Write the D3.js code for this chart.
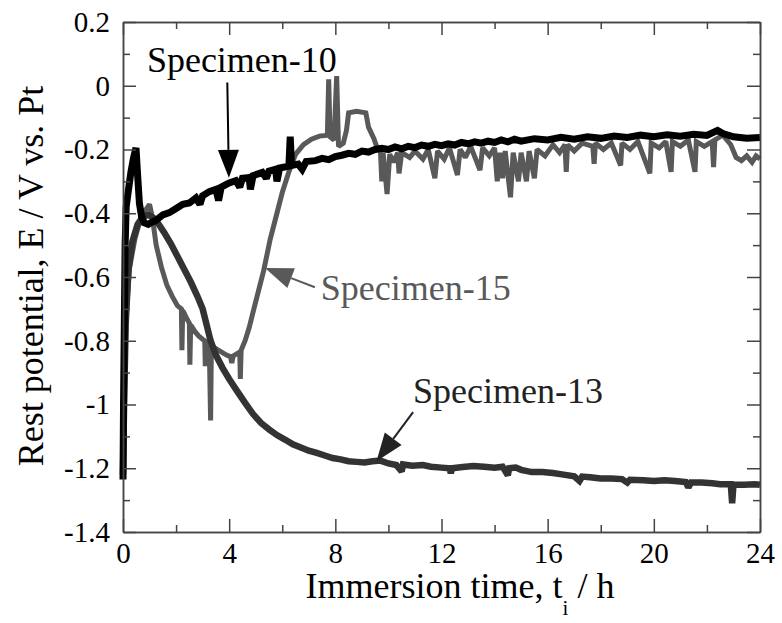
<!DOCTYPE html>
<html>
<head>
<meta charset="utf-8">
<script src="https://cdn.jsdelivr.net/npm/d3@7"></script>
<style>
  html, body { margin: 0; padding: 0; background: #fff; }
  svg { display: block; }
  text { font-family: "Liberation Serif", "Times New Roman", Times, serif; }
</style>
</head>
<body>
<svg id="chart" width="782" height="623"></svg>
<script>
// ---- data (time in h, potential in V vs. Pt) ----
const xMajorTicks = [0, 4, 8, 12, 16, 20, 24];
const xTickLabels = ["0", "4", "8", "12", "16", "20", "24"];
const xMinorTicks = [2, 6, 10, 14, 18, 22];
const yMajorTicks = [-1.4, -1.2, -1.0, -0.8, -0.6, -0.4, -0.2, 0, 0.2];
const yTickLabels = ["-1.4", "-1.2", "-1", "-0.8", "-0.6", "-0.4", "-0.2", "0", "0.2"];
const yMinorTicks = [-1.3, -1.1, -0.9, -0.7, -0.5, -0.3, -0.1, 0.1];

const seriesNames = ["Specimen-15", "Specimen-13", "Specimen-10"];

const specimen10 = [
  [0,-1.235],[0.02,-1.0],[0.05,-0.75],[0.08,-0.5],[0.12,-0.38],[0.2,-0.33],[0.3,-0.27],[0.4,-0.225],[0.49,-0.195],
  [0.55,-0.28],[0.62,-0.37],[0.7,-0.41],[0.8,-0.43],[0.95,-0.435],[1.0,-0.432],[1.25,-0.422],[1.5,-0.405],
  [1.75,-0.398],[2.0,-0.385],[2.25,-0.372],[2.5,-0.368],[2.75,-0.352],[2.9,-0.372],[3.0,-0.345],[3.25,-0.332],[3.5,-0.325],
  [3.6,-0.36],[3.7,-0.318],[4.0,-0.305],[4.25,-0.298],[4.4,-0.318],[4.5,-0.29],[4.75,-0.288],[4.8,-0.325],[4.9,-0.282],
  [5.25,-0.272],[5.4,-0.29],[5.5,-0.268],[5.75,-0.262],[5.8,-0.3],[5.9,-0.258],[6.25,-0.252],[6.3,-0.16],[6.35,-0.25],
  [6.6,-0.246],[6.75,-0.262],[6.9,-0.238],[7.25,-0.235],[7.5,-0.228],[7.75,-0.232],[8.0,-0.222],[8.25,-0.218],
  [8.5,-0.212],[8.75,-0.215],[9.0,-0.205],[9.25,-0.208],[9.5,-0.2],[9.75,-0.196],[10,-0.2],[10.25,-0.192],
  [10.5,-0.198],[10.75,-0.19],[11,-0.194],[11.25,-0.186],[11.5,-0.19],[11.75,-0.184],[12,-0.188],[12.25,-0.182],
  [12.5,-0.186],[12.75,-0.178],[13,-0.182],[13.25,-0.176],[13.5,-0.18],[13.75,-0.174],[14,-0.178],[14.25,-0.17],
  [14.5,-0.176],[14.75,-0.168],[15,-0.174],[15.5,-0.166],[16,-0.17],[16.5,-0.162],[17,-0.168],[17.5,-0.16],
  [18,-0.165],[18.5,-0.158],[19,-0.162],[19.5,-0.155],[20,-0.16],[20.5,-0.154],[21,-0.158],[21.5,-0.152],
  [22,-0.156],[22.4,-0.14],[22.6,-0.15],[23,-0.16],[23.5,-0.165],[24,-0.162]
];

const specimen15 = [
  [0,-1.2],[0.05,-0.95],[0.12,-0.72],[0.25,-0.57],[0.45,-0.48],[0.65,-0.42],[0.85,-0.39],[1.0,-0.372],
  [1.1,-0.41],[1.25,-0.5],[1.45,-0.57],[1.65,-0.625],[1.85,-0.66],[2.05,-0.69],[2.2,-0.7],[2.22,-0.83],
  [2.25,-0.705],[2.4,-0.73],[2.5,-0.745],[2.52,-0.875],[2.55,-0.75],[2.7,-0.77],[2.85,-0.785],[3.0,-0.795],
  [3.08,-0.8],[3.1,-0.88],[3.13,-0.805],[3.25,-0.81],[3.3,-1.05],[3.33,-0.815],[3.5,-0.825],[3.7,-0.835],
  [3.9,-0.845],[4.05,-0.85],[4.1,-0.87],[4.15,-0.848],[4.3,-0.84],[4.4,-0.835],[4.42,-0.92],[4.45,-0.83],
  [4.6,-0.8],[4.75,-0.76],[4.9,-0.71],[5.1,-0.645],[5.3,-0.58],[5.55,-0.48],[5.8,-0.4],[6.0,-0.335],
  [6.25,-0.27],[6.5,-0.215],[6.8,-0.185],[7.1,-0.168],[7.4,-0.158],[7.7,-0.155],[7.75,0.02],[7.8,-0.16],
  [7.95,-0.17],[8.05,0.03],[8.12,-0.19],[8.3,-0.18],[8.42,-0.14],[8.5,-0.085],[8.8,-0.08],[9.15,-0.085],
  [9.25,-0.13],[9.45,-0.165],[9.6,-0.2],[9.7,-0.205],[9.75,-0.3],[9.8,-0.21],[9.95,-0.34],[10.05,-0.215],
  [10.2,-0.24],[10.35,-0.21],[10.4,-0.275],[10.5,-0.21],[10.8,-0.225],[11.0,-0.205],[11.3,-0.23],[11.5,-0.2],
  [11.75,-0.29],[11.85,-0.205],[12.1,-0.23],[12.3,-0.195],[12.6,-0.28],[12.7,-0.2],[12.9,-0.225],[13.1,-0.19],
  [13.45,-0.265],[13.55,-0.195],[13.8,-0.22],[14.0,-0.195],[14.1,-0.3],[14.2,-0.21],[14.3,-0.29],[14.4,-0.205],
  [14.6,-0.35],[14.7,-0.21],[14.9,-0.3],[15.0,-0.21],[15.2,-0.3],[15.3,-0.205],[15.5,-0.29],[15.6,-0.2],
  [15.9,-0.22],[16.2,-0.185],[16.45,-0.21],[16.65,-0.185],[16.7,-0.27],[16.75,-0.185],[17.0,-0.205],[17.3,-0.18],
  [17.7,-0.19],[17.75,-0.245],[17.8,-0.18],[18.1,-0.2],[18.4,-0.18],[18.75,-0.25],[18.8,-0.18],[19.1,-0.2],
  [19.4,-0.175],[19.85,-0.275],[19.9,-0.18],[20.2,-0.195],[20.45,-0.175],[20.65,-0.27],[20.7,-0.175],[21.0,-0.19],
  [21.3,-0.17],[21.55,-0.27],[21.6,-0.175],[21.9,-0.19],[22.2,-0.175],[22.25,-0.255],[22.3,-0.17],[22.6,-0.155],
  [22.9,-0.185],[23.1,-0.225],[23.3,-0.235],[23.5,-0.22],[23.7,-0.24],[23.85,-0.22],[24,-0.23]
];

const specimen13 = [
  [0,-1.22],[0.04,-1.0],[0.1,-0.75],[0.2,-0.58],[0.35,-0.49],[0.55,-0.435],[0.75,-0.41],[0.95,-0.405],
  [1.15,-0.415],[1.35,-0.435],[1.55,-0.46],[1.8,-0.495],[2.05,-0.535],[2.3,-0.575],[2.55,-0.615],[2.8,-0.66],
  [3.0,-0.7],[3.15,-0.75],[3.3,-0.8],[3.5,-0.845],[3.75,-0.885],[4.0,-0.92],[4.3,-0.958],[4.6,-0.995],
  [4.9,-1.03],[5.2,-1.058],[5.5,-1.078],[5.8,-1.096],[6.1,-1.11],[6.4,-1.125],[6.7,-1.135],[7.0,-1.145],
  [7.3,-1.152],[7.6,-1.16],[7.9,-1.168],[8.2,-1.172],[8.5,-1.178],[8.8,-1.18],[9.1,-1.182],[9.4,-1.178],
  [9.7,-1.176],[10.0,-1.185],[10.3,-1.19],[10.5,-1.21],[10.55,-1.188],[10.9,-1.192],[11.3,-1.19],[11.6,-1.195],
  [12.0,-1.198],[12.3,-1.2],[12.35,-1.215],[12.4,-1.2],[12.8,-1.196],[13.2,-1.193],[13.6,-1.195],[14.0,-1.198],
  [14.3,-1.195],[14.5,-1.222],[14.55,-1.2],[14.8,-1.198],[15.0,-1.205],[15.4,-1.212],[15.8,-1.212],[16.2,-1.215],
  [16.6,-1.22],[17.0,-1.225],[17.2,-1.24],[17.3,-1.226],[17.6,-1.228],[18.0,-1.232],[18.4,-1.232],[18.8,-1.234],
  [19.0,-1.245],[19.1,-1.236],[19.6,-1.238],[20.0,-1.24],[20.4,-1.238],[20.8,-1.24],[21.2,-1.243],[21.3,-1.26],
  [21.4,-1.245],[21.8,-1.245],[22.2,-1.247],[22.5,-1.25],[22.9,-1.25],[22.95,-1.31],[23.0,-1.252],[23.4,-1.252],
  [23.8,-1.25],[24,-1.252]
];

// ---- chart ----
const W = 782, H = 623;
const margin = { left: 123, right: 22, top: 22, bottom: 91 };
const x = d3.scaleLinear().domain([0, 24]).range([margin.left, W - margin.right]);
const y = d3.scaleLinear().domain([-1.4, 0.2]).range([H - margin.bottom, margin.top]);
const serif = "'Liberation Serif', 'Times New Roman', Times, serif";

const svg = d3.select("#chart");
const axisColor = "#444";

const series = [
  { name: seriesNames[0], data: specimen15, color: "#595959", width: 5 },
  { name: seriesNames[1], data: specimen13, color: "#333333", width: 6.5 },
  { name: seriesNames[2], data: specimen10, color: "#000000", width: 7 }
];

const line = d3.line().x(d => x(d[0])).y(d => y(d[1]));

svg.append("g").selectAll("path")
  .data(series).join("path")
  .attr("d", d => line(d.data))
  .attr("fill", "none")
  .attr("stroke", d => d.color)
  .attr("stroke-width", d => d.width)
  .attr("stroke-linejoin", "miter")
  .attr("stroke-miterlimit", 2)
  .attr("stroke-linecap", "butt");

// axes
function styleAxis(g) {
  g.attr("font-family", serif);
  g.selectAll("path.domain").attr("stroke", axisColor).attr("stroke-width", 1.5);
  g.selectAll(".tick line").attr("stroke", axisColor).attr("stroke-width", 1.5);
  g.selectAll(".tick text").attr("fill", "#000").style("font-family", serif).style("font-size", "29px");
}
const yB = H - margin.bottom, xL = margin.left, xR = W - margin.right, yT = margin.top;

svg.append("g").attr("transform", `translate(0,${yB})`)
  .call(d3.axisBottom(x).tickValues(xMajorTicks).tickFormat((d, i) => xTickLabels[i])
    .tickSizeInner(-13).tickSizeOuter(0).tickPadding(10))
  .call(styleAxis);
svg.append("g").attr("transform", `translate(0,${yB})`)
  .call(d3.axisBottom(x).tickValues(xMinorTicks).tickFormat("").tickSizeInner(-7).tickSizeOuter(0))
  .call(styleAxis);
svg.append("g").attr("transform", `translate(0,${yT})`)
  .call(d3.axisTop(x).tickValues(xMajorTicks).tickFormat("").tickSizeInner(-13).tickSizeOuter(0))
  .call(styleAxis);
svg.append("g").attr("transform", `translate(0,${yT})`)
  .call(d3.axisTop(x).tickValues(xMinorTicks).tickFormat("").tickSizeInner(-7).tickSizeOuter(0))
  .call(styleAxis);

svg.append("g").attr("transform", `translate(${xL},0)`)
  .call(d3.axisLeft(y).tickValues(yMajorTicks).tickFormat((d, i) => yTickLabels[i])
    .tickSizeInner(-13).tickSizeOuter(0).tickPadding(13))
  .call(styleAxis);
svg.append("g").attr("transform", `translate(${xL},0)`)
  .call(d3.axisLeft(y).tickValues(yMinorTicks).tickFormat("").tickSizeInner(-7).tickSizeOuter(0))
  .call(styleAxis);
svg.append("g").attr("transform", `translate(${xR},0)`)
  .call(d3.axisRight(y).tickValues(yMajorTicks).tickFormat("").tickSizeInner(-13).tickSizeOuter(0))
  .call(styleAxis);
svg.append("g").attr("transform", `translate(${xR},0)`)
  .call(d3.axisRight(y).tickValues(yMinorTicks).tickFormat("").tickSizeInner(-7).tickSizeOuter(0))
  .call(styleAxis);

// axis titles
const xt = svg.append("text")
  .attr("x", 460)
  .attr("y", 598)
  .attr("text-anchor", "middle")
  .style("font-family", serif)
  .style("font-size", "36px")
  .attr("fill", "#000");
xt.append("tspan").text("Immersion time, t");
xt.append("tspan").attr("dy", 17).style("font-size", "21px").text("i");
xt.append("tspan").attr("dy", -17).text(" / h");

svg.append("text")
  .attr("transform", "rotate(-90)")
  .attr("x", -276)
  .attr("y", 43)
  .attr("text-anchor", "middle")
  .style("font-family", serif)
  .style("font-size", "36px")
  .attr("fill", "#000")
  .text("Rest potential, E / V vs. Pt");

// annotations
function arrow(x1, y1, x2, y2, color, headLen, headW) {
  const dx = x2 - x1, dy = y2 - y1, L = Math.hypot(dx, dy);
  const ux = dx / L, uy = dy / L, px = -uy, py = ux;
  const bx = x2 - ux * headLen, by = y2 - uy * headLen;
  svg.append("line").attr("x1", x1).attr("y1", y1).attr("x2", bx).attr("y2", by)
    .attr("stroke", color).attr("stroke-width", 2);
  svg.append("path")
    .attr("d", `M${x2},${y2}L${bx + px * headW / 2},${by + py * headW / 2}L${bx - px * headW / 2},${by - py * headW / 2}Z`)
    .attr("fill", color);
}

const annotations = [
  { text: seriesNames[2], color: "#000", tx: 0.9, ty: 0.043, from: [3.93, 0.01], to: [3.99, -0.289] },
  { text: seriesNames[0], color: "#595959", tx: 7.45, ty: -0.673, from: [7.23, -0.632], to: [5.35, -0.572] },
  { text: seriesNames[1], color: "#222", tx: 10.93, ty: -0.995, from: [10.93, -1.024], to: [9.55, -1.178] }
];

annotations.forEach(a => {
  svg.append("text")
    .attr("x", x(a.tx)).attr("y", y(a.ty))
    .style("font-family", serif)
    .style("font-size", "36px")
    .attr("fill", a.color)
    .text(a.text);
  arrow(x(a.from[0]), y(a.from[1]), x(a.to[0]), y(a.to[1]), a.color, 28, 21);
});
</script>
</body>
</html>
